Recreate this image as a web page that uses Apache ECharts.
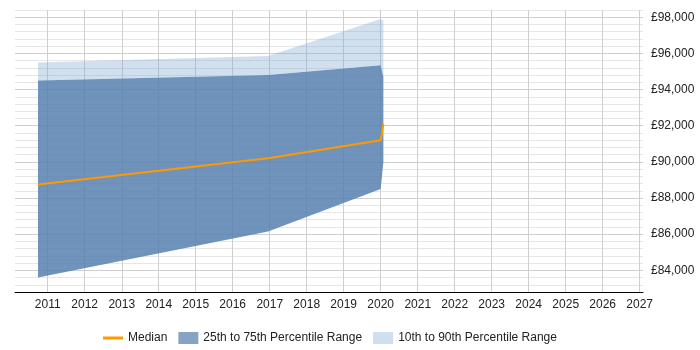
<!DOCTYPE html>
<html>
<head>
<meta charset="utf-8">
<title>Salary percentiles</title>
<script src="https://cdn.jsdelivr.net/npm/echarts@6/dist/echarts.min.js"></script>
<style>
  html, body { margin: 0; padding: 0; background: #fff; }
  #chart { width: 700px; height: 350px; }
</style>
</head>
<body>
<div id="chart"></div>
<script>
// data points (dates where the series change)
const dates = ['2010-09-27', '2016-12-15', '2020-01-01', '2020-01-28']
const median = [88750, 90200, 91200, 92100]
const p25 = [83600, 86150, 88500, 90000]
const p75 = [94500, 94800, 95350, 94700]
const p90 = [95500, 95850, 97900, 97800]

const legendNames = ['Median', '25th to 75th Percentile Range', '10th to 90th Percentile Range']

// stacked bands: base (p25) -> dark (p75 - p25) -> light (p90 - p75)
const baseData = dates.map((d, i) => [d, p25[i]])
const midData = dates.map((d, i) => [d, p75[i] - p25[i]])
const topData = dates.map((d, i) => [d, p90[i] - p75[i]])
const medianData = dates.map((d, i) => [d, median[i]])

const chart = echarts.init(document.getElementById('chart'))

const option = {
  animation: false,
  textStyle: {
    fontFamily: 'Liberation Sans, Arial, sans-serif'
  },
  grid: {
    left: 15,
    right: 57,
    top: 10,
    bottom: 58
  },
  legend: {
    left: 98,
    top: 327,
    itemWidth: 20,
    itemHeight: 12,
    itemGap: 11,
    textStyle: {
      fontSize: 12,
      color: '#222'
    },
    data: [
      { name: legendNames[0], icon: 'path://M0,0h20v3h-20z', itemStyle: { color: '#ff9900' } },
      { name: legendNames[1], icon: 'rect', itemStyle: { color: '#87a3c3' } },
      { name: legendNames[2], icon: 'rect', itemStyle: { color: '#cfdfee' } }
    ]
  },
  xAxis: {
    type: 'time',
    min: '2010-02-12',
    max: '2027-02-03',
    splitNumber: 17,
    minInterval: 365 * 24 * 3600 * 1000,
    maxInterval: 366 * 24 * 3600 * 1000,
    axisLine: {
      show: true,
      lineStyle: { color: '#000', width: 1 }
    },
    axisTick: { show: false },
    axisLabel: {
      formatter: '{yyyy}',
      color: '#222',
      fontSize: 12,
      margin: 7,
      showMinLabel: false,
      showMaxLabel: false
    },
    splitLine: {
      show: true,
      showMinLine: false,
      showMaxLine: false,
      lineStyle: { color: '#cfcfcf' }
    }
  },
  yAxis: {
    type: 'value',
    position: 'right',
    min: 82800,
    max: 98400,
    interval: 400,
    axisLine: { show: false },
    axisTick: { show: false },
    axisLabel: {
      interval: 0,
      margin: 8,
      color: '#222',
      fontSize: 12,
      formatter: function (v) {
        if (v % 2000 !== 0) return ''
        return '£' + v.toLocaleString('en-GB')
      }
    },
    splitLine: {
      show: true,
      lineStyle: {
        // 82800 is first tick; every fifth (84000, 86000 ...) is a major line
        color: ['#e6e6e6', '#e6e6e6', '#e6e6e6', '#cfcfcf', '#e6e6e6']
      }
    }
  },
  series: [
    {
      name: 'base',
      type: 'line',
      stack: 'band',
      data: baseData,
      symbol: 'none',
      lineStyle: { opacity: 0 },
      silent: true
    },
    {
      name: legendNames[1],
      type: 'line',
      stack: 'band',
      data: midData,
      symbol: 'none',
      lineStyle: { opacity: 0 },
      itemStyle: { color: '#87a3c3' },
      areaStyle: { color: 'rgb(86,128,175)', opacity: 0.85 }
    },
    {
      name: legendNames[2],
      type: 'line',
      stack: 'band',
      data: topData,
      symbol: 'none',
      lineStyle: { opacity: 0 },
      itemStyle: { color: '#cfdfee' },
      areaStyle: { color: 'rgb(120,165,210)', opacity: 0.35 }
    },
    {
      name: legendNames[0],
      type: 'line',
      data: medianData,
      symbol: 'none',
      z: 5,
      itemStyle: { color: '#ff9900' },
      lineStyle: { color: '#ff9900', width: 2 }
    }
  ]
}

chart.setOption(option, true)
</script>
</body>
</html>
